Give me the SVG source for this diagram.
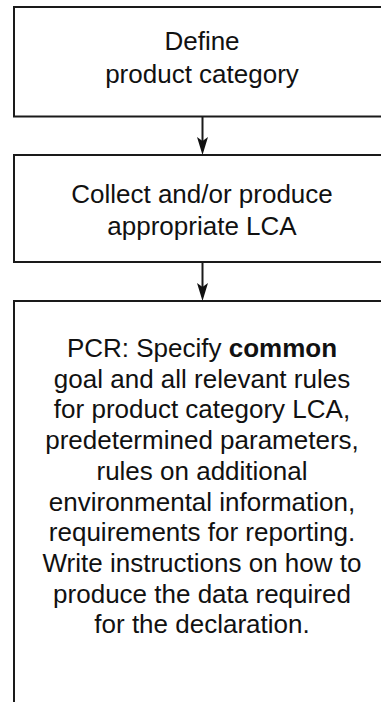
<svg xmlns="http://www.w3.org/2000/svg" width="381" height="702" viewBox="0 0 381 702">
  <style>
    .box { fill: #ffffff; stroke: #1a1a1a; stroke-width: 2; }
    .lbl { font-family: "Liberation Sans", Arial, sans-serif; font-size: 26px; fill: #111111; text-anchor: middle; }
    .b { font-weight: bold; }
    .conn { stroke: #1a1a1a; stroke-width: 2; fill: none; }
    .head { fill: #111111; stroke: none; }
  </style>
  <rect width="381" height="702" fill="#ffffff"/>
  <g id="node-define">
    <rect class="box" x="14" y="7" width="380" height="109.5"/>
    <text class="lbl" x="202" y="50">Define</text>
    <text class="lbl" x="202" y="82.5">product category</text>
  </g>
  <g id="node-collect">
    <rect class="box" x="14" y="155" width="380" height="107"/>
    <text class="lbl" x="202" y="203">Collect and/or produce</text>
    <text class="lbl" x="202" y="234.5">appropriate LCA</text>
  </g>
  <g id="node-pcr">
    <rect class="box" x="14" y="301" width="380" height="420"/>
    <text class="lbl" x="202" y="357">PCR: Specify <tspan class="b">common</tspan></text>
    <text class="lbl" x="202" y="387.7">goal and all relevant rules</text>
    <text class="lbl" x="202" y="418.4">for product category LCA,</text>
    <text class="lbl" x="202" y="449.1">predetermined parameters,</text>
    <text class="lbl" x="202" y="479.8">rules on additional</text>
    <text class="lbl" x="202" y="510.5">environmental information,</text>
    <text class="lbl" x="202" y="541.2">requirements for reporting.</text>
    <text class="lbl" x="202" y="571.9">Write instructions on how to</text>
    <text class="lbl" x="202" y="602.6">produce the data required</text>
    <text class="lbl" x="202" y="633.3">for the declaration.</text>
  </g>
  <g id="connectors">
    <line class="conn" x1="202.5" y1="117" x2="202.5" y2="145"/>
    <path class="head" d="M202.5,155 L197,137 L202.5,141 L208,137 Z"/>
    <line class="conn" x1="202.5" y1="263" x2="202.5" y2="291"/>
    <path class="head" d="M202.5,301 L197,283 L202.5,287 L208,283 Z"/>
  </g>
</svg>
